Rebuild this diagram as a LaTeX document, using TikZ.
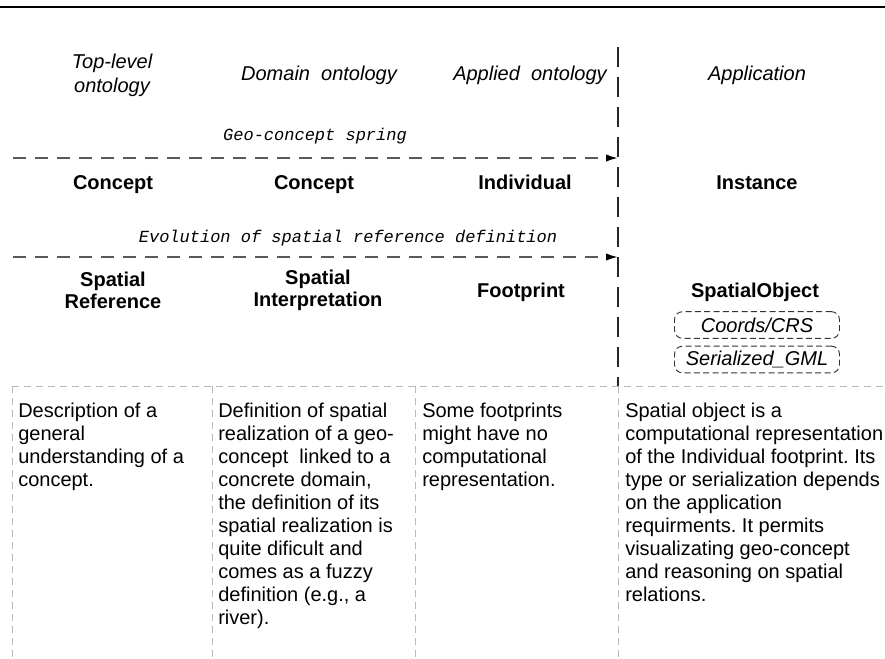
\documentclass[tikz,border=0pt]{standalone}
\usepackage{fontspec}
\setmainfont{Liberation Sans}
\newfontfamily\monoit{Liberation Mono}
\usetikzlibrary{arrows.meta}
\frenchspacing

\begin{document}
\begin{tikzpicture}[x=0.75pt,y=-0.75pt,
  head/.style={font=\fontsize{15}{18}\selectfont\itshape, align=center},
  term/.style={font=\fontsize{15}{16.5}\selectfont\bfseries, align=center},
  flow/.style={font=\monoit\fontsize{12.75}{14}\selectfont\itshape},
  descr/.style={font=\fontsize{15}{17.25}\selectfont, align=left, anchor=north west, inner sep=0pt},
  repbox/.style={draw=black!80, dash pattern=on 4.5pt off 2.5pt, line width=0.7pt, rounded corners=6pt, minimum width=123.75pt, minimum height=20pt, inner sep=0pt, font=\fontsize{15}{17}\selectfont\itshape},
  grid/.style={draw=gray!55, dash pattern=on 5pt off 4pt, line width=0.7pt},
  flowline/.style={draw=black!65, dash pattern=on 9.5pt off 7pt, line width=1.3pt, -{Latex[length=9pt,width=5.5pt,black]}}]
\useasboundingbox (0,0) rectangle (885,658);
\draw[line width=2.2pt] (0,7) -- (885,7);
% columns
\node[head] (hTop) at (112,75) {Top-level\\ontology};\node[head] (hDomain) at (319,75) {Domain\ \ ontology};\node[head] (hApplied) at (530,75) {Applied\ \ ontology};\node[head] (hApp) at (757,75) {Application};
\draw[black!85, line width=1.1pt, dash pattern=on 15pt off 7.5pt] (618,47) -- (618,386);
\coordinate (geoStart) at (13,158);\coordinate (geoEnd) at (618,158);
\coordinate (evoStart) at (13,257);\coordinate (evoEnd) at (618,257);
\node[flow] (geo) at (315,136) {Geo-concept spring};
\draw[flowline] (geoStart) -- (geoEnd);
\node[term, anchor=base] (cTop) at (113,189) {Concept};\node[term, anchor=base] (cDomain) at (314,189) {Concept};\node[term, anchor=base] (cApplied) at (525,189) {Individual};\node[term, anchor=base] (cApp) at (757,189) {Instance};
\node[flow] (evo) at (348,238) {Evolution of spatial reference definition};
\draw[flowline] (evoStart) -- (evoEnd);
\node[term] (sTop) at (113,290) {Spatial\\Reference};\node[term] (sDomain) at (318,290) {Spatial\\Interpretation};\node[term, anchor=base] (sApplied) at (521,297) {Footprint};\node[term, anchor=base] (sApp) at (755,297) {SpatialObject};
\node[repbox] (coords) at (757,325) {Coords/CRS};\node[repbox] (gml) at (757,359.5) {Serialized\_GML};
% description table
\draw[grid] (12,386) -- (885,386);
\foreach \x in {12,212,415,618} {\draw[grid] (\x,386) -- (\x,658);}
\node[descr] (dTop) at (18,403) {Description of a\\general\\understanding of a\\concept.};
\node[descr] (dDomain) at (218,403) {Definition of spatial\\realization of a geo-\\concept\ \ linked to a\\concrete domain,\\the definition of its\\spatial realization is\\quite dificult and\\comes as a fuzzy\\definition (e.g., a\\river).};
\node[descr] (dApplied) at (422,403) {Some footprints\\might have no\\computational\\representation.};
\node[descr] (dApp) at (625,403) {Spatial object is a\\computational representation\\of the Individual footprint. Its\\type or serialization depends\\on the application\\requirments. It permits\\visualizating geo-concept\\and reasoning on spatial\\relations.};
\end{tikzpicture}
\end{document}
